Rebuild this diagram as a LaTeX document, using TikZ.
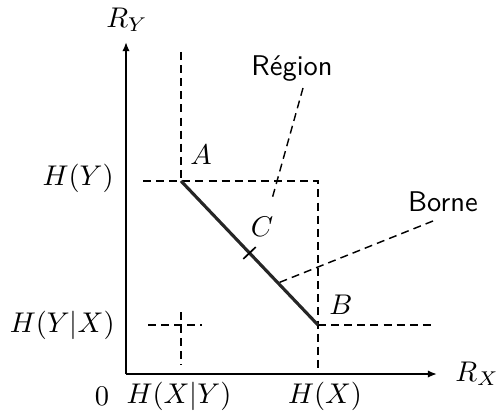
\documentclass[tikz,border=0pt]{standalone}
\usetikzlibrary{arrows.meta,calc}
\begin{document}
\begin{tikzpicture}[x=0.351pt,y=-0.351pt,
  axis/.style={line width=0.7pt,-{Latex[length=3.2pt,width=2.6pt]}},
  dsh/.style={line width=0.5pt,dash pattern=on 2.8pt off 1.8pt},
  bound/.style={line width=1.1pt,black!85},
  lbl/.style={inner sep=1pt},
  txt/.style={font=\sffamily,inner sep=1pt}]
\useasboundingbox (0,0) rectangle (500,412);
% key points
\coordinate (O) at (126,374);
\coordinate (Xend) at (437,374);
\coordinate (Yend) at (126,42);
\coordinate (A) at (181,181);
\coordinate (B) at (318,325);
\coordinate (C) at ($(A)!0.5!(B)$);
\coordinate (Atop) at (181,52);
\coordinate (HYl) at (143,181);
\coordinate (HYr) at (318,181);
\coordinate (HXb) at (318,374);
\coordinate (Br) at (435,325);
\coordinate (crL) at (148,325);
\coordinate (crR) at (202,325);
\coordinate (crT) at (181,312);
\coordinate (crB) at (181,365);
% axes
\draw[axis] (O) -- (Xend);
\draw[axis] (O) -- (Yend);
% dashed guides
\draw[dsh] (Atop) -- (A);
\draw[dsh] (HYl) -- (HYr) -- (HXb);
\draw[dsh] (B) -- (Br);
\draw[dsh] (crL) -- (crR);
\draw[dsh] (crT) -- (crB);
% bound segment
\draw[bound] (A) -- (B);
\draw[line width=0.6pt] ($(C)!3pt!90:(A)$) -- ($(C)!3pt!-90:(A)$);
% labels
\node[lbl] (RY) at (127,20) {$R_Y$};
\node[lbl] (RX) at (477,374) {$R_X$};
\node[lbl,anchor=east] (lHY) at (117,178) {$H(Y)$};
\node[lbl,anchor=east] (lHYX) at (118,325) {$H(Y|X)$};
\node[lbl] (l0) at (102,396) {$0$};
\node[lbl] (lHXY) at (179,396) {$H(X|Y)$};
\node[lbl] (lHX) at (325,396) {$H(X)$};
\node[lbl] (lA) at (201,155) {$A$};
\node[lbl] (lB) at (341,305) {$B$};
\node[lbl] (lC) at (262,227) {$C$};
% annotations
\node[txt] (reg) at (292,69) {Région};
\node[txt] (bor) at (443,202) {Borne};
\coordinate (regS) at (303,88);
\coordinate (regE) at (272,199);
\coordinate (borS) at (433,221);
\coordinate (borE) at (278,283);
\draw[dsh] (regS) -- (regE);
\draw[dsh] (borS) -- (borE);
\end{tikzpicture}
\end{document}
